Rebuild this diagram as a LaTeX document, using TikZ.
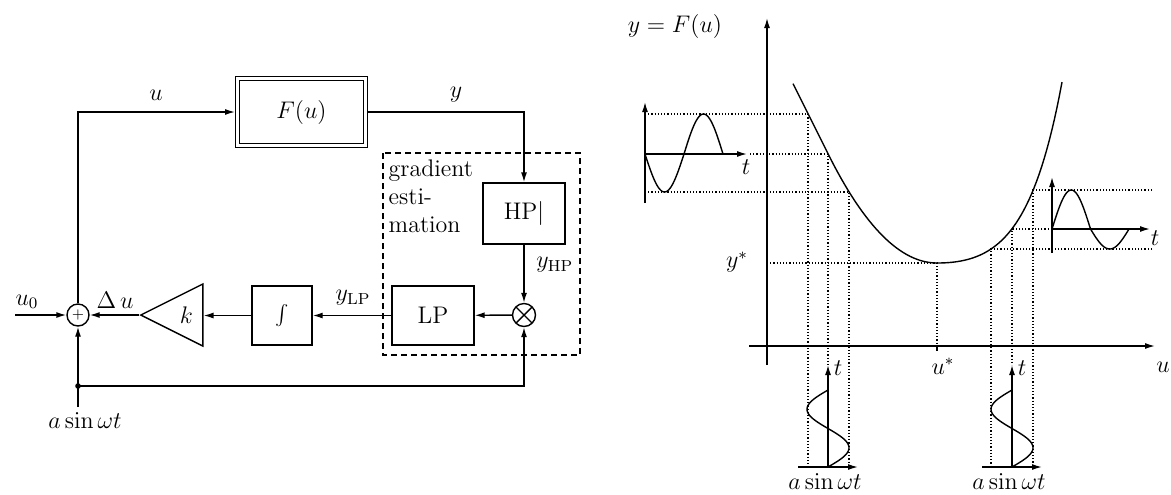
\documentclass[tikz,border=0pt]{standalone}
\usepackage{tikz}
\usetikzlibrary{arrows.meta,shapes.geometric}
\tikzset{
  arr/.style={-{Latex[length=5pt,width=3pt]}},
  blk/.style={draw, minimum height=29.5pt, inner sep=2pt},
  plantbox/.style={draw, double, double distance=1.3pt, minimum width=64pt, minimum height=33.5pt, outer sep=1.25pt},
  sumnode/.style={draw, circle, minimum size=11pt, inner sep=0pt},
  mulnode/.style={draw, circle, minimum size=11.5pt, inner sep=0pt,
    path picture={\draw (path picture bounding box.north west) -- (path picture bounding box.south east)
      (path picture bounding box.south west) -- (path picture bounding box.north east);}},
  gainnode/.style={draw, isosceles triangle, isosceles triangle stretches, shape border rotate=180,
    minimum width=31pt, minimum height=31pt, inner sep=0pt},
  aux/.style={densely dotted, line width=0.6pt},
  wave/.style={smooth, samples=60, domain=0:360},
}

\begin{document}
\begin{tikzpicture}[x=0.5pt, y=-0.5pt, font=\large, line width=0.7pt]
  \useasboundingbox (0,0) rectangle (1171,494);
  % extremum seeking loop
  \node[plantbox] (plant) at (301.5,112) {$F(u)$};
  \node[blk, minimum width=41pt, minimum height=30.5pt] (hp) at (524,213.5) {HP|};
  \node[mulnode] (mul) at (524,315) {};
  \node[blk, minimum width=41pt] (lp) at (433,315.5) {LP};
  \node[blk, minimum width=30pt] (intg) at (282,315.5) {$\int$};
  \node[gainnode, anchor=apex] (gain) at (139,315) {$k$};
  \node[sumnode] (sum) at (78,315) {\scriptsize$+$};
  \coordinate (uin) at (15,315);
  \coordinate (dith) at (78,407);
  \coordinate (split) at (78,386);
  \draw[dashed, dash pattern=on 3pt off 2pt] (383,153) rectangle (580,355);
  \node[anchor=north west, align=left, inner sep=0pt] (gradlbl) at (388,159) {gradient\\esti-\\mation};

  \draw[arr] (uin) -- (sum);
  \draw[arr] (sum.north) |- (plant.west);
  \draw[arr] (plant.east) -| (hp.north);
  \draw[arr] (hp) -- (mul);
  \draw[arr] (mul) -- (lp);
  \draw[arr] (lp) -- (intg);
  \draw[arr] (intg.west) -- (intg.west -| gain.lower side);
  \draw[arr] (gain.apex) -- (sum);
  \draw[arr] (dith) -- (sum);
  \draw[arr] (split) -| (mul.south);
  \fill (split) circle (1.4pt);

  \node (ulbl) at (156,95) {$u$};
  \node (ylbl) at (456,95) {$y$};
  \node (u0lbl) at (27,302) {$u_0$};
  \node (dulbl) at (115,300) {$\Delta\,u$};
  \node (ylplbl) at (353,298) {$y_{\mathrm{LP}}$};
  \node[anchor=west] (yhplbl) at (529,265) {$y_{\mathrm{HP}}$};
  \node (dithlbl) at (85,421) {$a\sin\omega t$};

  % static map y = F(u)
  \draw[arr] (767,365) -- (767,18);
  \draw[arr] (749,346) -- (1155,346);
  \node (ylab) at (675,26) {$y=F(u)$};
  \node (ulab) at (1163,367) {$u$};
  \node (ustar) at (943,366) {$u^*$};
  \node (ystar) at (737,262) {$y^*$};
  \draw (937,346) -- (937,351);
  \draw (793,83.7) -- (828.3,154.3) .. controls (864.5,226.8) and (900.8,263) .. (937,263)
    -- plot[domain=0:125, samples=50] ({937+\x},{263-8.4*(exp(0.026*\x)-1-0.026*\x)});

  \draw[aux] (645,114) -- (808,114) -- (808,467);
  \draw[aux] (750,154) -- (828,154) -- (828,365);
  \draw[aux] (645,192) -- (849,192) -- (849,467);
  \draw[aux] (1152,190) -- (1033,190) -- (1033,467);
  \draw[aux] (1052,229) -- (1012,229) -- (1012,365);
  \draw[aux] (1152,249) -- (991,249) -- (991,467);
  \draw[aux] (767,263) -- (937,263) -- (937,346);

  % output sines
  \draw[arr] (645,203) -- (645,102);
  \draw[arr] (645,154) -- (747,154);
  \node (tl) at (746,167) {$t$};
  \draw plot[wave] ({645+\x/360*78},{154+(39-1*sign(sin(\x)))*sin(\x)});
  \draw[arr] (1052,253) -- (1052,177);
  \draw[arr] (1052,229) -- (1150,229);
  \node (tr) at (1155,238) {$t$};
  \draw plot[wave] ({1052+\x/360*77},{229-(29.5+9.5*sign(sin(\x)))*sin(\x)});

  % input sines
  \foreach \xc/\nm in {828/l, 1012/r} {
    \draw[arr] (\xc,467) -- (\xc,365);
    \draw[arr] (\xc-30,467) -- (\xc+30,467);
    \draw plot[wave] ({\xc+21*sin(\x)},{467-\x/360*77});
    \node (tb\nm) at (\xc+10,368) {$t$};
    \node (ab\nm) at (\xc-3,482) {$a\sin\omega t$};
  }
\end{tikzpicture}
\end{document}
